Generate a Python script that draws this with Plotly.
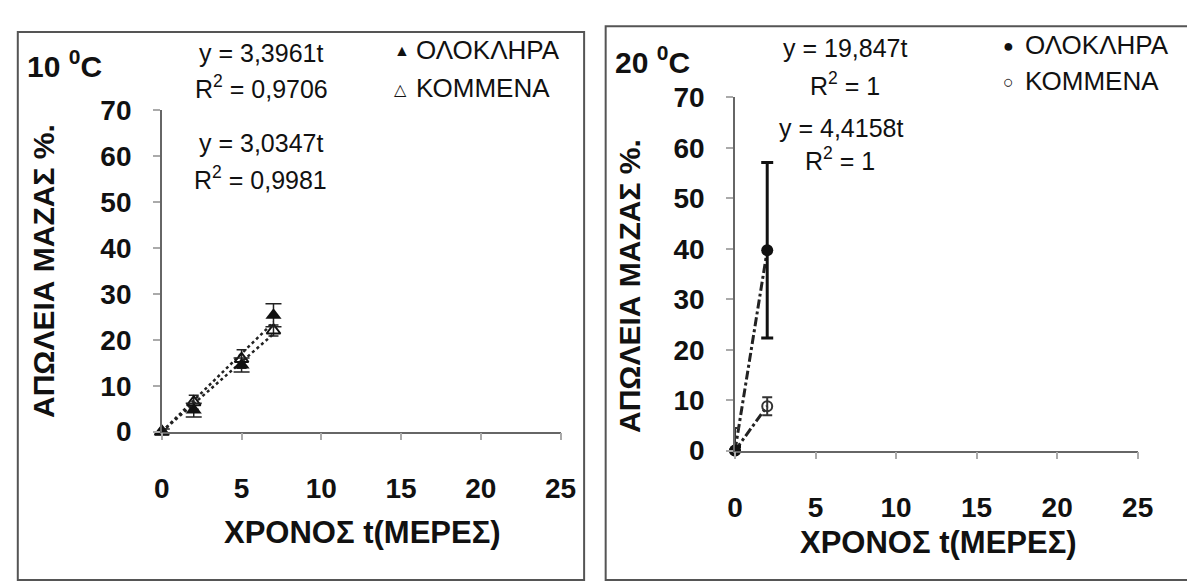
import plotly.graph_objects as go

W, H = 1187, 585

# ---------------- data ----------------
# Left panel: 10 °C
t_10 = [0, 2, 5, 7]
olok_10 = [0, 4.7, 14.5, 25.3]          # ΟΛΟΚΛΗΡΑ (whole)
olok_10_err = [0.6, 1.5, 1.5, 2.5]
komm_10 = [0, 6.4, 15.8, 22.0]           # ΚΟΜΜΕΝΑ (cut)
komm_10_err = [0.6, 1.5, 2.0, 1.2]
fit_t_10 = [0, 7]
slope_olok_10 = 3.3961
slope_komm_10 = 3.0347

# Right panel: 20 °C
t_20 = [0, 2]
olok_20 = [0, 39.7]
olok_20_err = [0.8, 17.4]
komm_20 = [0, 8.8]
komm_20_err = [4.5, 1.8]
fit_t_20 = [0, 2]
slope_olok_20 = 19.847
slope_komm_20 = 4.4158

x_ticks = [0, 5, 10, 15, 20, 25]
y_ticks = [0, 10, 20, 30, 40, 50, 60, 70]

FONT = "Liberation Sans, Arial, sans-serif"


def px(x):
    return x / W


def py(y):
    return 1 - y / H


fig = go.Figure()

# ---------- left panel traces ----------
fig.add_trace(go.Scatter(
    x=fit_t_10, y=[slope_olok_10 * t for t in fit_t_10], mode="lines",
    line=dict(color="#222", width=2.5, dash="dot"), xaxis="x", yaxis="y",
    showlegend=False, cliponaxis=False))
fig.add_trace(go.Scatter(
    x=fit_t_10, y=[slope_komm_10 * t for t in fit_t_10], mode="lines",
    line=dict(color="#222", width=2.5, dash="dot"), xaxis="x", yaxis="y",
    showlegend=False, cliponaxis=False))
fig.add_trace(go.Scatter(
    x=t_10, y=komm_10, mode="markers", xaxis="x", yaxis="y",
    marker=dict(symbol="triangle-up-open", size=12, color="#111", line=dict(width=2, color="#111")),
    error_y=dict(type="data", array=komm_10_err, color="#222", thickness=1.5, width=5),
    showlegend=False, cliponaxis=False))
fig.add_trace(go.Scatter(
    x=t_10, y=olok_10, mode="markers", xaxis="x", yaxis="y",
    marker=dict(symbol="triangle-up", size=14, color="#111"),
    error_y=dict(type="data", array=olok_10_err, color="#222", thickness=1.5, width=8),
    showlegend=False, cliponaxis=False))

# ---------- right panel traces ----------
fig.add_trace(go.Scatter(
    x=fit_t_20, y=[slope_olok_20 * t for t in fit_t_20], mode="lines",
    line=dict(color="#222", width=3, dash="dashdot"), xaxis="x2", yaxis="y2",
    showlegend=False, cliponaxis=False))
fig.add_trace(go.Scatter(
    x=fit_t_20, y=[slope_komm_20 * t for t in fit_t_20], mode="lines",
    line=dict(color="#222", width=3, dash="dashdot"), xaxis="x2", yaxis="y2",
    showlegend=False, cliponaxis=False))
fig.add_trace(go.Scatter(
    x=t_20, y=komm_20, mode="markers", xaxis="x2", yaxis="y2",
    marker=dict(symbol="circle-open", size=10, color="#333", line=dict(width=2, color="#333")),
    error_y=dict(type="data", array=komm_20_err, color="#333", thickness=2, width=5),
    showlegend=False, cliponaxis=False))
fig.add_trace(go.Scatter(
    x=t_20, y=olok_20, mode="markers", xaxis="x2", yaxis="y2",
    marker=dict(symbol="circle", size=12, color="#111"),
    error_y=dict(type="data", array=olok_20_err, color="#111", thickness=3, width=6),
    showlegend=False, cliponaxis=False))

tickfont = dict(family=FONT, size=28, color="#111", weight="bold")
axis_common = dict(
    showgrid=False, zeroline=False, showline=True,
    linecolor="#666", linewidth=1.5, ticks="outside", ticklen=7,
    tickcolor="#aaa", tickwidth=1.5, tickfont=tickfont, fixedrange=True,
)

fig.update_layout(
    width=W, height=H,
    margin=dict(l=0, r=0, t=0, b=0),
    paper_bgcolor="white", plot_bgcolor="rgba(0,0,0,0)",
    font=dict(family=FONT, color="#111"),
    xaxis=dict(axis_common, domain=[px(157), px(564)], range=[0, 25], tickvals=x_ticks,
               anchor="y", ticklabelstandoff=24),
    yaxis=dict(axis_common, domain=[py(440), py(100)], range=[0, 70], tickvals=y_ticks,
               anchor="x", ticklabelstandoff=16),
    xaxis2=dict(axis_common, domain=[px(742), px(1153)], range=[0, 25], tickvals=x_ticks,
                anchor="y2", ticklabelstandoff=24),
    yaxis2=dict(axis_common, domain=[py(460), py(87)], range=[0, 70], tickvals=y_ticks,
                anchor="x2", ticklabelstandoff=16),
)

# panel frames
fig.add_shape(type="rect", xref="paper", yref="paper",
              x0=px(10), x1=px(588), y0=-0.02, y1=py(18),
              line=dict(color="#555", width=2))
fig.add_shape(type="rect", xref="paper", yref="paper",
              x0=px(610), x1=1.02, y0=-0.02, y1=py(12),
              line=dict(color="#555", width=2))


def ann(text, x, y, size, bold=False, xanchor="center", angle=0):
    fig.add_annotation(
        text=text, x=px(x), y=py(y), xref="paper", yref="paper",
        xanchor=xanchor, yanchor="middle", showarrow=False, textangle=angle,
        font=dict(family=FONT, size=size, color="#111", weight="bold" if bold else "normal"))


# titles
ann("10 <sup>0</sup>C", 17, 52, 30, bold=True, xanchor="left")
ann("20 <sup>0</sup>C", 617, 48, 30, bold=True, xanchor="left")

# axis titles
ann("ΑΠΩΛΕΙΑ ΜΑΖΑΣ %.", 36, 270, 30, bold=True, angle=-90)
ann("ΑΠΩΛΕΙΑ ΜΑΖΑΣ %.", 635, 286, 30, bold=True, angle=-90)
ann("ΧΡΟΝΟΣ t(ΜΕΡΕΣ)", 362, 546, 31, bold=True)
ann("ΧΡΟΝΟΣ t(ΜΕΡΕΣ)", 950, 557, 31, bold=True)

# fit equations
ann("y = 3,3961t", 258, 40, 25)
ann("R<sup>2</sup> = 0,9706", 259, 76, 25)
ann("y = 3,0347t", 258, 135, 25)
ann("R<sup>2</sup> = 0,9981", 258, 172, 25)
ann("y = 19,847t", 854, 35, 25)
ann("R<sup>2</sup> = 1", 854, 73, 25)
ann("y = 4,4158t", 850, 119, 25)
ann("R<sup>2</sup> = 1", 849, 152, 25)

# legends
ann("▲", 392, 38, 16, xanchor="left")
ann("ΟΛΟΚΛΗΡΑ", 414, 37, 26, xanchor="left")
ann("△", 392, 79, 16, xanchor="left")
ann("ΚΟΜΜΕΝΑ", 414, 77, 26, xanchor="left")
ann("●", 1014, 33, 18, xanchor="left")
ann("ΟΛΟΚΛΗΡΑ", 1036, 32, 26, xanchor="left")
ann("○", 1014, 71, 18, xanchor="left")
ann("ΚΟΜΜΕΝΑ", 1036, 70, 26, xanchor="left")

fig.write_html("out.html")
